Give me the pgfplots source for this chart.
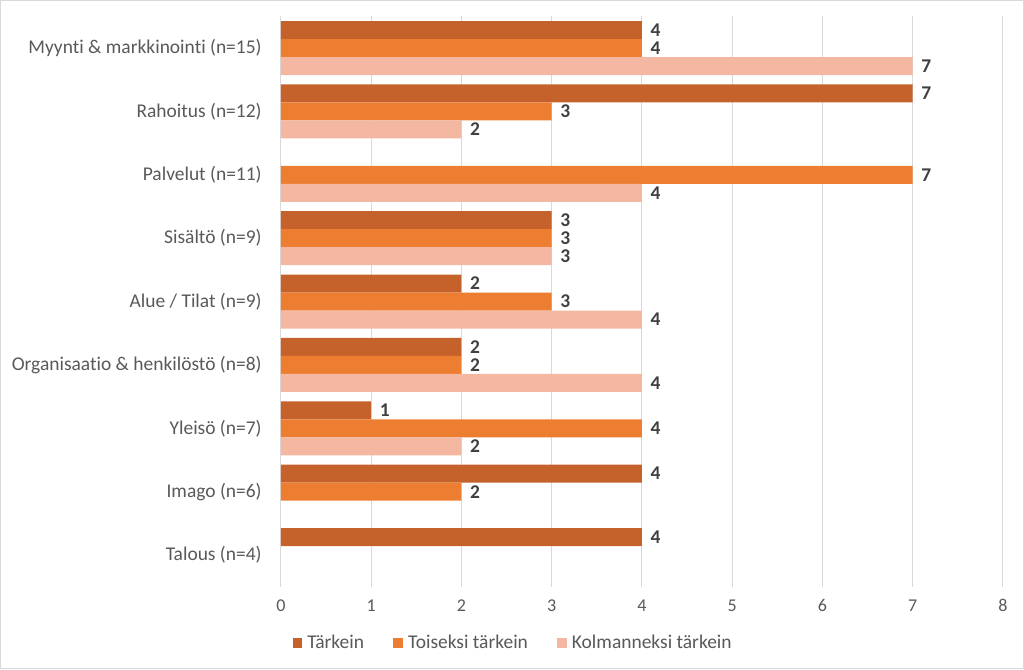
\documentclass[border=0pt]{standalone}
\usepackage{pgfplots}
\pgfplotsset{compat=1.18}
\usepackage{fontspec}
\setmainfont{Carlito}[Ligatures=NoCommon]
\definecolor{cA}{HTML}{C5622B}
\definecolor{cB}{HTML}{ED7D31}
\definecolor{cC}{HTML}{F4B8A2}
\definecolor{gridc}{HTML}{D9D9D9}
\definecolor{txt}{HTML}{595959}
\definecolor{lbl}{HTML}{404040}
\begin{document}
\begin{tikzpicture}
\useasboundingbox (0,0) rectangle (768pt,501.75pt);
\draw[gridc,line width=0.75pt] (0.375pt,0.375pt) rectangle (767.625pt,501.375pt);
\begin{axis}[
  at={(210.75pt,61.7pt)}, anchor=south west,
  scale only axis, width=541.5pt, height=427.8pt,
  xbar, bar width=13.5pt,
  xmin=0, xmax=8, ymin=-0.5, ymax=8.5,
  y dir=reverse,
  xtick={0,...,8}, ytick={0,...,8},
  yticklabels={Myynti \& markkinointi (n=15),Rahoitus (n=12),Palvelut (n=11),Sisältö (n=9),Alue / Tilat (n=9),Organisaatio \& henkilöstö (n=8),Yleisö (n=7),Imago (n=6),Talous (n=4)},
  axis line style={draw=none},
  major tick length=0pt,
  xmajorgrids, grid style={gridc, line width=0.75pt},
  /pgf/number format/assume math mode=true,
  xticklabel style={font=\fontsize{13.5}{16}\selectfont, text=txt, yshift=-6pt},
  yticklabel style={font=\fontsize{14.6}{17}\selectfont, text=txt, xshift=-11pt},
  nodes near coords,
  nodes near coords style={font=\fontsize{14.6}{17}\selectfont\bfseries, text=lbl, anchor=west, xshift=3pt},
  legend columns=3,
  legend style={at={(0.322,-0.0987)}, anchor=center, draw=none, font=\fontsize{14.6}{17}\selectfont, text=txt, /tikz/every even column/.append style={column sep=20pt}},
  legend image code/.code={\fill[#1] (0pt,-3.5pt) rectangle (7pt,3.5pt); \path (9pt,0pt);},
]
\addplot[fill=cA, draw=none, bar shift=13.5pt] coordinates {(4,0) (7,1) (3,3) (2,4) (2,5) (1,6) (4,7) (4,8)};
\addplot[fill=cB, draw=none, bar shift=0pt] coordinates {(4,0) (3,1) (7,2) (3,3) (3,4) (2,5) (4,6) (2,7)};
\addplot[fill=cC, draw=none, bar shift=-13.5pt] coordinates {(7,0) (2,1) (4,2) (3,3) (4,4) (4,5) (2,6)};
\legend{Tärkein, Toiseksi tärkein, Kolmanneksi tärkein}
\end{axis}
\end{tikzpicture}
\end{document}
